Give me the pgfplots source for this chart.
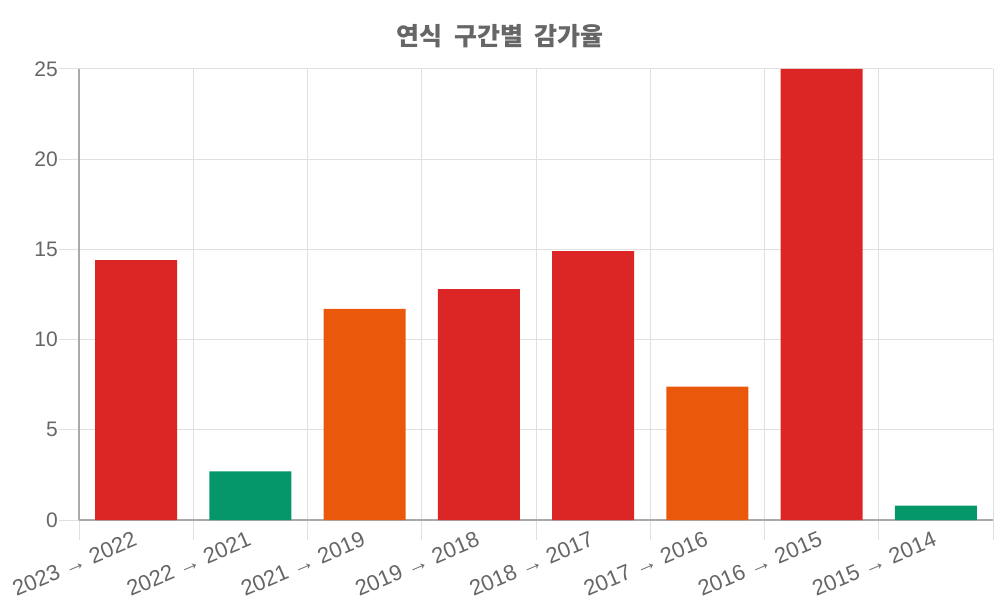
\documentclass[border=0pt]{standalone}
\usepackage{fontspec}
\setmainfont{Liberation Sans}
\newfontfamily\cjk{Noto Sans CJK KR}
\usepackage{pgfplots}
\pgfplotsset{compat=1.18}
\definecolor{barred}{HTML}{DC2626}
\definecolor{bargreen}{HTML}{059669}
\definecolor{barorange}{HTML}{EA580C}
\definecolor{txtgray}{HTML}{666666}
\definecolor{gridgray}{HTML}{E0E0E0}
\definecolor{axisgray}{HTML}{AAAAAA}

\begin{document}
\begin{tikzpicture}
\useasboundingbox (0,0) rectangle (1000bp,600bp);
\node[text=txtgray, font=\cjk\bfseries\fontsize{25bp}{28bp}\selectfont] at (500bp,564bp) {연식\hspace{6bp} 구간별\hspace{6bp} 감가율};
\begin{axis}[
    at={(79bp,80bp)}, anchor=south west,
    scale only axis, width=914bp, height=451bp,
    xmin=-0.5, xmax=7.5, ymin=0, ymax=25,
    axis x line=bottom, axis y line=left,
    axis line style={draw=axisgray, line width=1.2bp, -},
    xtick={0,...,7},
    xticklabels={2023 → 2022,2022 → 2021,2021 → 2019,2019 → 2018,2018 → 2017,2017 → 2016,2016 → 2015,2015 → 2014},
    minor xtick={-0.5,0.5,...,7.5},
    xminorgrids, ymajorgrids,
    ytick={0,5,...,25},
    tick align=outside,
    major tick length=20bp, minor tick length=20bp,
    major x tick style={draw=none},
    major y tick style={draw=gridgray, line width=1bp},
    minor x tick style={draw=gridgray, line width=1bp},
    grid style={draw=gridgray, line width=1bp},
    minor grid style={draw=gridgray, line width=1bp},
    ticklabel style={text=txtgray, font=\fontsize{21bp}{24bp}\selectfont},
    /pgf/number format/assume math mode=true,
    yticklabel style={inner sep=1bp},
    xticklabel style={rotate=23, anchor=north east, inner sep=0pt, yshift=10bp,
        font=\fontsize{22bp}{24bp}\selectfont},
    ybar, bar width=82bp, bar shift=0pt,
    clip=false,
]
\addplot[fill=barred, draw=none] coordinates {(0,14.4) (3,12.8) (4,14.9) (6,25)};
\addplot[fill=bargreen, draw=none] coordinates {(1,2.7) (7,0.8)};
\addplot[fill=barorange, draw=none] coordinates {(2,11.7) (5,7.4)};
\end{axis}
\end{tikzpicture}
\end{document}
